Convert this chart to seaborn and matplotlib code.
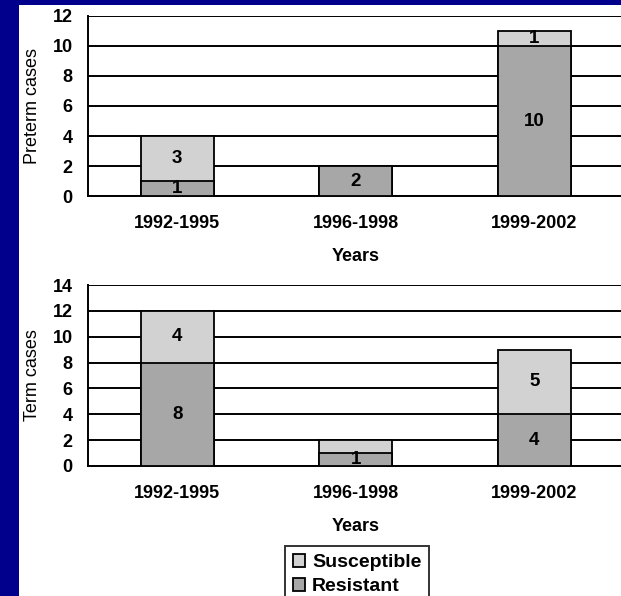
import matplotlib
matplotlib.use("Agg")
import matplotlib.pyplot as plt
from matplotlib.patches import Rectangle, Patch
import seaborn as sns
import pandas as pd

# Case counts per period, split by susceptibility
periods = ["1992-1995", "1996-1998", "1999-2002"]
preterm_resistant = [1, 2, 10]
preterm_susceptible = [3, 0, 1]
term_resistant = [8, 1, 4]
term_susceptible = [4, 1, 5]
# which segment values are printed on the bars
term_susceptible_shown = [True, False, True]

LIGHT = "#d2d2d2"
DARK = "#a7a7a7"
NAVY = "#00008c"

sns.set_style("white")
plt.rcParams["font.family"] = ["Liberation Sans", "DejaVu Sans"]
plt.rcParams.update({"text.color": "black", "axes.labelcolor": "black",
                     "xtick.color": "black", "ytick.color": "black"})

fig = plt.figure(figsize=(6.21, 5.96), dpi=100, facecolor=NAVY)
fig.patches.append(Rectangle((19 / 621, 0), 1, 1 - 5 / 596, transform=fig.transFigure,
                             facecolor="white", edgecolor="none", zorder=-10))

W, H = 621, 596
left = 88 / W
width = 535.5 / W
ax1 = fig.add_axes([left, 1 - 196 / H, width, 180 / H])
ax2 = fig.add_axes([left, 1 - 466 / H, width, 181 / H])


def stacked(ax, resistant, susceptible, ymax, shown_s=None):
    df = pd.DataFrame({
        "period": periods,
        "resistant": resistant,
        "total": [r + s for r, s in zip(resistant, susceptible)],
    })
    bw = 0.41
    sns.barplot(data=df, x="period", y="total", color=LIGHT, width=bw,
                edgecolor="black", linewidth=1.3, ax=ax, zorder=3, saturation=1)
    sns.barplot(data=df, x="period", y="resistant", color=DARK, width=bw,
                edgecolor="black", linewidth=1.3, ax=ax, zorder=4, saturation=1)
    for i, (r, s) in enumerate(zip(resistant, susceptible)):
        if r > 0:
            ax.text(i, r / 2, str(r), ha="center", va="center", fontsize=13.5,
                    fontweight="bold", zorder=6)
        if s > 0 and (shown_s is None or shown_s[i]):
            ax.text(i, r + s / 2, str(s), ha="center", va="center", fontsize=13.5,
                    fontweight="bold", zorder=6)
    ax.set_xlim(-0.5, 2.5)
    ax.set_ylim(0, ymax)
    ax.set_yticks(range(0, ymax + 1, 2))
    ax.yaxis.grid(True, color="black", linewidth=1.4)
    ax.set_axisbelow(True)
    for side in ("top", "right"):
        ax.spines[side].set_visible(False)
    for side in ("left", "bottom"):
        ax.spines[side].set_color("black")
        ax.spines[side].set_linewidth(1.4)
    ax.set_facecolor("none")
    ax.tick_params(axis="y", which="major", direction="out", length=5, width=1.3,
                   pad=6, labelsize=13)
    ax.tick_params(axis="x", which="major", length=0, pad=13.5, labelsize=13)
    ax.set_xticks([0.5, 1.5], minor=True)
    ax.tick_params(axis="x", which="minor", direction="out", length=4, width=1.3)
    for lab in ax.get_xticklabels() + ax.get_yticklabels():
        lab.set_fontweight("bold")
    ax.set_xlabel("Years", fontsize=13, fontweight="bold", labelpad=12)


stacked(ax1, preterm_resistant, preterm_susceptible, 12)
stacked(ax2, term_resistant, term_susceptible, 14, term_susceptible_shown)
ax1.set_ylabel("Preterm cases", fontsize=13, labelpad=8)
ax2.set_ylabel("Term cases", fontsize=13, labelpad=8)

handles = [Patch(facecolor=LIGHT, edgecolor="black", linewidth=1.3, label="Susceptible"),
           Patch(facecolor=DARK, edgecolor="black", linewidth=1.3, label="Resistant")]
leg = fig.legend(handles=handles, loc="upper left",
                 bbox_to_anchor=(285 / W, 1 - 546 / H), frameon=True, fancybox=False,
                 handlelength=0.65, handleheight=0.65, handletextpad=0.35,
                 borderpad=0.4, labelspacing=0.35, borderaxespad=0,
                 prop={"size": 14, "weight": "bold"})
leg.get_frame().set_edgecolor("black")
leg.get_frame().set_linewidth(1.4)

fig.savefig("out.png", dpi=100, facecolor=NAVY)
